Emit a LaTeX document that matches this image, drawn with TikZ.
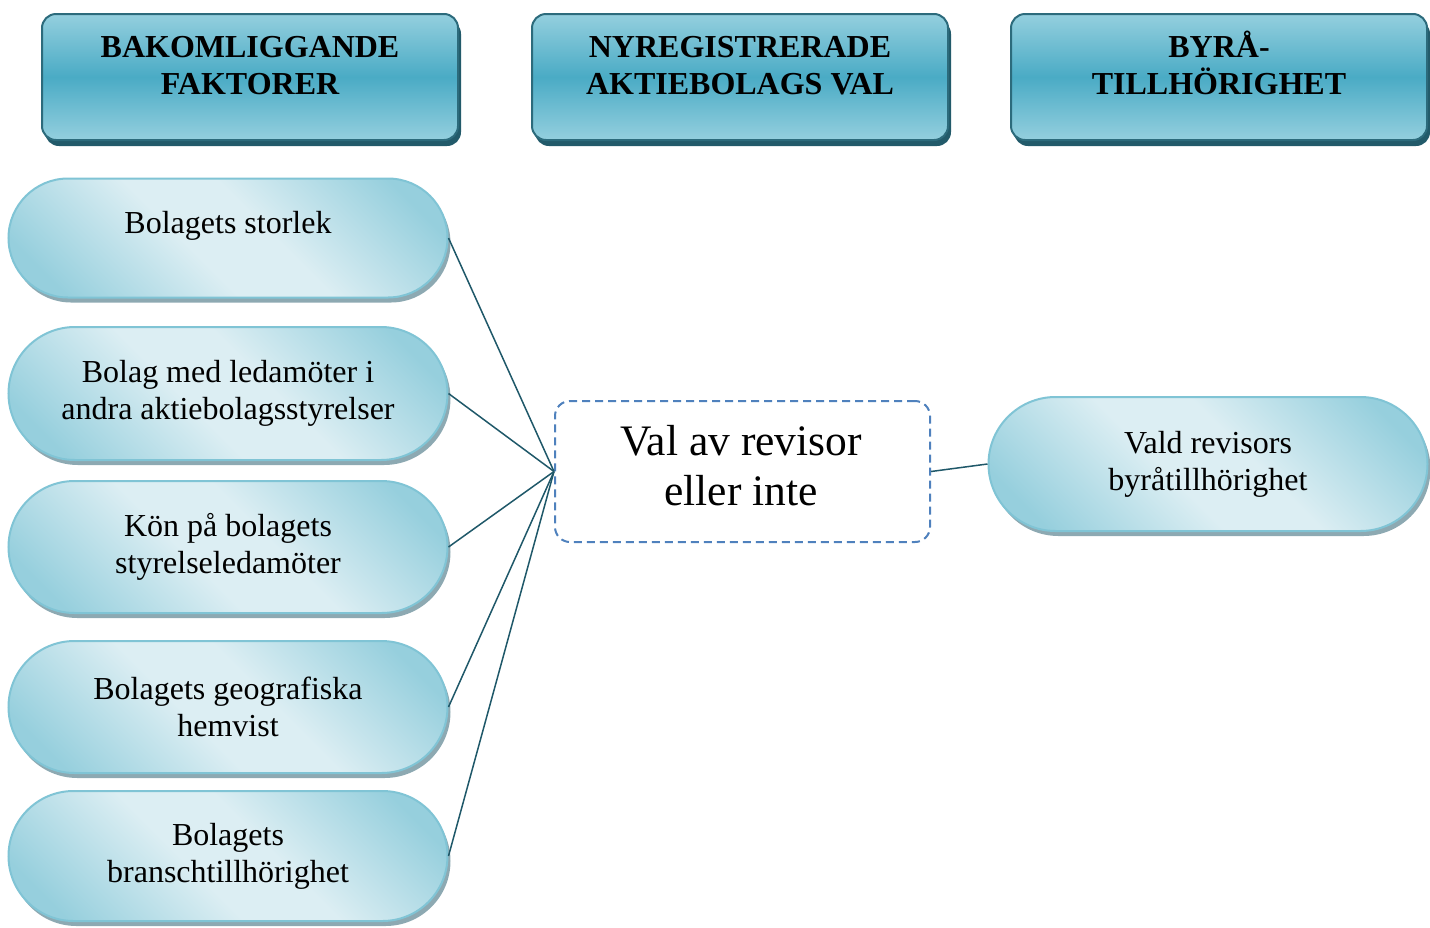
\documentclass[tikz,border=0pt]{standalone}
\usepackage{fontspec}
\setmainfont{Liberation Serif}
\usetikzlibrary{shapes.misc,shadows}
\definecolor{hdrlight}{HTML}{94CFDE}
\definecolor{hdrdark}{HTML}{4AABC5}
\definecolor{hdrline}{HTML}{2C6B7C}
\definecolor{hdrshadow}{HTML}{225A6A}
\definecolor{pilllight}{HTML}{DCEEF3}
\definecolor{pilldark}{HTML}{96CFDD}
\definecolor{pillline}{HTML}{80C4D5}
\definecolor{pillshadow}{HTML}{8DA9B2}
\definecolor{conncol}{HTML}{1F5869}
\definecolor{dashblue}{HTML}{4F81BD}
\pgfdeclarehorizontalshading{pillshade}{100bp}{color(0bp)=(pilldark); color(22bp)=(pilldark); color(44bp)=(pilllight); color(56bp)=(pilllight); color(78bp)=(pilldark); color(100bp)=(pilldark)}
\begin{document}
\begin{tikzpicture}[x=1pt,y=-1pt,
  hdrbox/.style={rectangle, rounded corners=14pt, minimum width=416pt, minimum height=126pt,
    draw=hdrline, line width=2pt, top color=hdrlight, bottom color=hdrlight, middle color=hdrdark,
    drop shadow={shadow xshift=3pt, shadow yshift=-6pt, fill=hdrshadow, opacity=1}},
  hdrtext/.style={font=\bfseries\fontsize{32}{37}\selectfont, align=center, inner sep=0pt},
  pill/.style={rounded rectangle, minimum width=439pt, inner sep=0pt, draw=pillline, line width=2pt,
    shading=pillshade, shading angle=45,
    drop shadow={shadow xshift=3pt, shadow yshift=-5pt, fill=pillshadow, opacity=1},
    font=\fontsize{32}{37}\selectfont, align=center},
  valbox/.style={rectangle, rounded corners=15pt, minimum width=375pt, minimum height=141pt,
    draw=dashblue, line width=2pt, dash pattern=on 8pt off 5pt, fill=white},
  valtext/.style={font=\fontsize{43.5}{50}\selectfont, align=center, inner sep=0pt},
  conn/.style={draw=conncol, line width=1.5pt}
]
\useasboundingbox (0,0) rectangle (1430,927);

% headers
\node[hdrbox] (h1) at (250,77) {};
\node[hdrbox] (h2) at (740,77) {};
\node[hdrbox] (h3) at (1219,77) {};
\node[hdrtext] (h1t) at (250,66) {BAKOMLIGGANDE\\FAKTORER};
\node[hdrtext] (h2t) at (740,66) {NYREGISTRERADE\\AKTIEBOLAGS VAL};
\node[hdrtext] (h3t) at (1219,63) {\vphantom{Å}BYRÅ-\\TILLHÖRIGHET};

% left pills
\node[pill, minimum height=119pt] (p1) at (228,238) {Bolagets storlek\\[-6pt]\mbox{}};
\node[pill, minimum height=133pt] (p2) at (228,393.5) {Bolag med ledamöter i\\andra aktiebolagsstyrelser};
\node[pill, minimum height=132pt] (p3) at (228,547) {Kön på bolagets\\styrelseledamöter};
\node[pill, minimum height=132pt] (p4) at (228,707) {Bolagets geografiska\\hemvist};
\node[pill, minimum height=130pt] (p5) at (228,856) {Bolagets\\branschtillhörighet};

% center
\node[valbox] (val) at (742.5,471.5) {};
\node[valtext] (valt) at (741,466) {Val av revisor\\eller inte};

% right pill
\node[pill, minimum height=134pt] (vr) at (1208,464) {Vald revisors\\byråtillhörighet};

% connectors
\draw[conn] (p1.east) -- (val.west);
\draw[conn] (p2.east) -- (val.west);
\draw[conn] (p3.east) -- (val.west);
\draw[conn] (p4.east) -- (val.west);
\draw[conn] (p5.east) -- (val.west);
\draw[conn] (val.east) -- (vr.west);
\end{tikzpicture}
\end{document}
